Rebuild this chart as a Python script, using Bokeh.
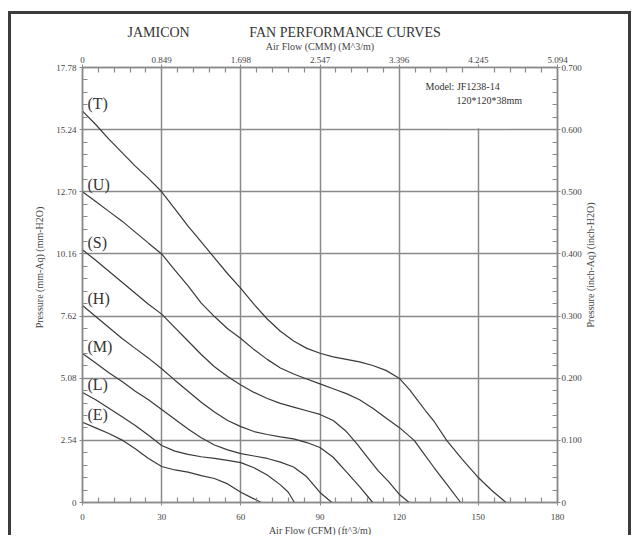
import numpy as np
from bokeh.plotting import figure
from bokeh.models import Range1d, LinearAxis, FixedTicker, Label, BoxAnnotation, ColumnDataSource, Grid, Title
from bokeh.core.properties import value
from bokeh.embed import file_html
from bokeh.resources import INLINE

# ---------------- data ----------------
cfm_ticks = [0, 30, 60, 90, 120, 150, 180]
cmm_labels = ["0", "0.849", "1.698", "2.547", "3.396", "4.245", "5.094"]
mm_ticks = [0, 2.54, 5.08, 7.62, 10.16, 12.70, 15.24, 17.78]
mm_labels = ["0", "2.54", "5.08", "7.62", "10.16", "12.70", "15.24", "17.78"]
inch_labels = ["0", "0.100", "0.200", "0.300", "0.400", "0.500", "0.600", "0.700"]

curve_names = ["(T)", "(U)", "(S)", "(H)", "(M)", "(L)", "(E)"]

T_cfm = [0, 5, 10, 15, 20, 25, 30, 35, 40, 45, 50, 55, 60, 65, 70, 75, 80, 85, 90, 95, 100, 105, 110, 115, 120, 124, 127, 130, 133, 138, 144, 150, 155, 160.5]
T_p = [16.0, 15.45, 14.85, 14.3, 13.75, 13.25, 12.7, 12.0, 11.3, 10.65, 10.0, 9.35, 8.75, 8.1, 7.5, 7.0, 6.6, 6.3, 6.1, 5.95, 5.85, 5.75, 5.6, 5.4, 5.08, 4.6, 4.17, 3.75, 3.35, 2.54, 1.75, 1.02, 0.5, 0.0]

U_cfm = [0, 5, 10, 15, 20, 25, 30, 35, 40, 45, 50, 55, 60, 65, 70, 75, 80, 85, 90, 95, 100, 105, 110, 115, 120, 125.7, 129, 133.2, 138, 143.3]
U_p = [12.7, 12.3, 11.9, 11.5, 11.05, 10.6, 10.16, 9.5, 8.85, 8.15, 7.6, 7.1, 6.7, 6.25, 5.85, 5.5, 5.25, 5.05, 4.85, 4.65, 4.45, 4.2, 3.85, 3.45, 3.07, 2.54, 2.05, 1.43, 0.75, 0.0]

S_cfm = [0, 5, 10, 15, 20, 25, 30, 35, 40, 45, 50, 55, 60, 65, 70, 75, 80, 85, 90, 95, 100, 104, 108, 112, 116, 120, 123.8]
S_p = [10.33, 9.9, 9.45, 9.0, 8.55, 8.1, 7.7, 7.15, 6.6, 6.05, 5.55, 5.15, 4.8, 4.5, 4.25, 4.05, 3.9, 3.75, 3.6, 3.35, 2.9, 2.4, 1.84, 1.3, 0.85, 0.34, 0.0]

H_cfm = [0, 5, 10, 15, 20, 25, 30, 35, 40, 45, 50, 55, 60, 65, 70, 75, 80, 85, 90, 95, 100, 105, 110]
H_p = [8.05, 7.6, 7.15, 6.7, 6.3, 5.9, 5.47, 5.0, 4.55, 4.1, 3.7, 3.35, 3.1, 2.9, 2.78, 2.68, 2.6, 2.45, 2.25, 1.85, 1.25, 0.65, 0.0]

M_cfm = [0, 5, 10, 15, 20, 25, 30, 35, 40, 45, 50, 55, 60, 65, 70, 75, 80, 85, 90, 94.5]
M_p = [6.09, 5.7, 5.3, 4.95, 4.55, 4.2, 3.8, 3.4, 3.0, 2.65, 2.35, 2.15, 2.0, 1.9, 1.8, 1.65, 1.45, 1.05, 0.41, 0.0]

L_cfm = [0, 5, 10, 15, 20, 25, 30, 35, 40, 45, 50, 55, 60, 65, 70, 75, 78, 80.3]
L_p = [4.5, 4.2, 3.85, 3.5, 3.15, 2.75, 2.33, 2.1, 1.97, 1.87, 1.8, 1.72, 1.63, 1.42, 1.12, 0.72, 0.42, 0.0]

E_cfm = [0, 5, 10, 15, 20, 25, 30, 35, 40, 45, 50, 55, 60, 64, 67.8]
E_p = [3.28, 3.05, 2.82, 2.55, 2.2, 1.8, 1.47, 1.33, 1.24, 1.1, 0.98, 0.76, 0.42, 0.2, 0.0]

curves = [(T_cfm, T_p), (U_cfm, U_p), (S_cfm, S_p), (H_cfm, H_p),
          (M_cfm, M_p), (L_cfm, L_p), (E_cfm, E_p)]

brand = "JAMICON"
chart_title = "FAN PERFORMANCE CURVES"
x_title_bottom = "Air Flow (CFM) (ft^3/m)"
x_title_top = "Air Flow (CMM) (M^3/m)"
y_title_left = "Pressure (mm-Aq) (mm-H2O)"
y_title_right = "Pressure (inch-Aq) (inch-H2O)"
model_name = "Model:  JF1238-14"
model_size = "120*120*38mm"

# ---------------- styling ----------------
SERIF = "Liberation Serif"
GRID = "#8a8a8a"
INK = "#3a3a3a"
NB = "\u00a0"

W, H = 623, 524
p = figure(width=W, height=H, output_backend="svg", toolbar_location=None,
           x_range=Range1d(cfm_ticks[0], cfm_ticks[-1]),
           y_range=Range1d(mm_ticks[0], mm_ticks[-1]),
           x_axis_location=None, y_axis_location=None,
           min_border_left=71, min_border_right=77,
           min_border_top=53, min_border_bottom=36)
p.styles = {"border-left": "3px solid #3c3c3c", "border-top": "3px solid #3c3c3c",
            "border-right": "3px solid #3c3c3c", "margin-left": "8px", "margin-top": "11px"}
p.background_fill_color = "white"
p.border_fill_color = "white"
p.outline_line_color = GRID
p.outline_line_width = 1.5
p.center = [r for r in p.center if not isinstance(r, Grid)]

cfm_minor = [v for v in np.arange(0, 180.01, 6).tolist() if v not in cfm_ticks]
mm_minor = [round(v, 3) for v in np.arange(0, 17.79, 0.508).tolist()]
mm_minor = [v for v in mm_minor if min(abs(v - t) for t in mm_ticks) > 0.01]

def style_axis(ax, ticks, minor, labels, title):
    ax.ticker = FixedTicker(ticks=ticks, minor_ticks=minor)
    ax.major_label_overrides = {t: l for t, l in zip(ticks, labels)}
    ax.axis_line_color = GRID
    ax.axis_line_width = 1.5
    ax.major_tick_line_color = GRID
    ax.major_tick_out = 3
    ax.major_tick_in = 0
    ax.minor_tick_line_color = GRID
    ax.minor_tick_line_width = 1.2
    ax.minor_tick_in = 5
    ax.minor_tick_out = 0
    ax.major_label_text_font = SERIF
    ax.major_label_text_font_size = "9px"
    ax.major_label_text_color = "#444444"
    ax.axis_label = title
    ax.axis_label_text_font = SERIF
    ax.axis_label_text_font_size = "10px"
    ax.axis_label_text_font_style = "normal"
    ax.axis_label_text_color = "#444444"

xb = LinearAxis(); style_axis(xb, cfm_ticks, cfm_minor, [str(t) for t in cfm_ticks], x_title_bottom)
xb.major_label_standoff = 8
xb.axis_label_standoff = 2
xt = LinearAxis(); style_axis(xt, cfm_ticks, cfm_minor, cmm_labels, x_title_top)
xt.major_label_standoff = 2
xt.axis_label_standoff = 2
# left title: leading no-break spaces lift the centred text a little
yl = LinearAxis(); style_axis(yl, mm_ticks, mm_minor, mm_labels, NB * 14 + y_title_left)
yl.major_label_standoff = 3
yl.axis_label_standoff = 8
yr = LinearAxis(); style_axis(yr, mm_ticks, mm_minor, inch_labels, y_title_right)
yr.major_label_standoff = 1
yr.axis_label_standoff = 6
props = yr.properties()
if "axis_label_orientation" in props and "axis_label_align" in props:
    # read bottom-to-top like the reference; anchor at the bottom, padded up
    yr.axis_label_orientation = float(np.pi / 2)
    yr.axis_label_align = "start"
    yr.axis_label = NB * 70 + y_title_right
p.add_layout(xb, "below")
p.add_layout(xt, "above")
p.add_layout(yl, "left")
p.add_layout(yr, "right")

# title: brand and chart name on one line
gap = NB * 17
ttl = Title(text=brand + gap + chart_title, align="left", offset=45, standoff=-5,
            text_font=SERIF, text_font_size="14px", text_font_style="normal", text_color="#333333")
p.add_layout(ttl, "above")

# grid
gx = Grid(dimension=0, ticker=FixedTicker(ticks=cfm_ticks[1:-1]), grid_line_color=GRID, grid_line_width=1.5)
gy = Grid(dimension=1, ticker=FixedTicker(ticks=mm_ticks[1:-1]), grid_line_color=GRID, grid_line_width=1.5)
p.add_layout(gx)
p.add_layout(gy)
# the model note box hides the last vertical grid line above 15.24
p.add_layout(BoxAnnotation(left=cfm_ticks[5] - 12, right=cfm_ticks[5] + 12,
                           bottom=mm_ticks[6] + 0.06, top=mm_ticks[7],
                           fill_color="white", fill_alpha=1, line_alpha=0, level="underlay"))

# curves
for cx, cy in curves:
    p.line(cx, cy, line_color=INK, line_width=1.2)

# curve names
src = ColumnDataSource(dict(x=[c[0][0] for c in curves], y=[c[1][0] for c in curves], t=curve_names))
p.text(x="x", y="y", text="t", source=src, x_offset=5, y_offset=1,
       text_font=value(SERIF), text_font_size="16px", text_color="#333333",
       text_baseline="bottom", text_align="left")

# model note (frame-relative screen units)
def lab(x, y, t, size, color="#333333", align="left"):
    p.add_layout(Label(x=x, y=y, x_units="screen", y_units="screen", text=t,
                       text_font=SERIF, text_font_size=size, text_color=color,
                       text_align=align, text_baseline="middle"))

lab(343, 416, model_name, "10px")
lab(374, 402, model_size, "10px")

open("out.html", "w").write(file_html(p, INLINE))
